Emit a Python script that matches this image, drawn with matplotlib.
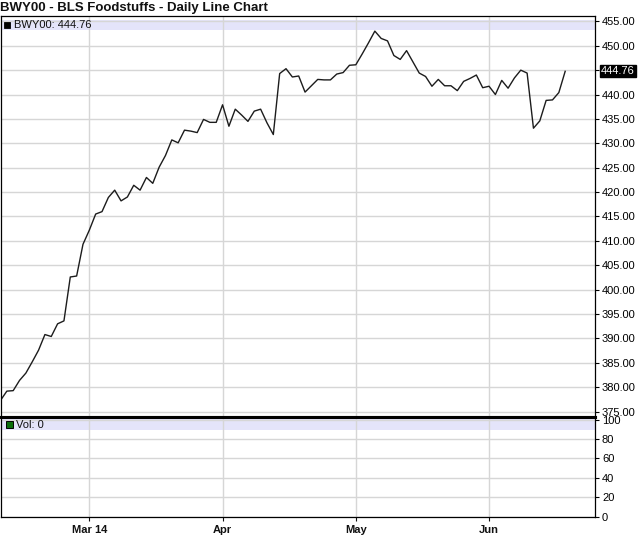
import matplotlib.pyplot as plt
import matplotlib.transforms as mtransforms
import numpy as np
from matplotlib.patches import Rectangle

plt.rcParams["font.family"] = ["Liberation Sans", "DejaVu Sans"]

# daily closes, BWY00 (one value per trading day)
price = [377.3, 379.2, 379.3, 381.4, 382.9, 385.2, 387.6, 390.8, 390.4, 393.0,
         393.6, 402.6, 402.8, 409.3, 412.2, 415.5, 416.0, 418.9, 420.4, 418.2,
         419.0, 421.4, 420.4, 423.0, 421.8, 425.1, 427.5, 430.7, 430.1, 432.7,
         432.5, 432.2, 434.9, 434.3, 434.3, 437.9, 433.5, 437.0, 435.8, 434.5,
         436.6, 437.0, 434.2, 431.8, 444.3, 445.3, 443.6, 443.8, 440.5, 441.8,
         443.1, 443.0, 443.0, 444.2, 444.5, 446.0, 446.1, 448.3, 450.6, 453.0,
         451.5, 451.0, 448.0, 447.2, 449.0, 446.7, 444.4, 443.7, 441.7, 443.1,
         441.8, 441.8, 440.8, 442.7, 443.3, 444.0, 441.4, 441.7, 440.0, 442.9,
         441.3, 443.4, 445.0, 444.4, 433.1, 434.6, 438.8, 438.9, 440.4, 444.76]
volume_last = 0
tick_idx = [14, 35, 56, 77]
tick_labels = ["Mar 14", "Apr", "May", "Jun"]
price_ticks = np.arange(375, 456, 5)
vol_ticks = [0, 20, 40, 60, 80, 100]

W, H = 640, 536
GRID = "#d6d6d6"
BAND = "#e4e4fa"


def frame(top, bottom, left=0.5, right=595.0):
    return [left / W, 1 - bottom / H, (right - left) / W, (bottom - top) / H]


fig = plt.figure(figsize=(W / 100, H / 100), dpi=100)
ax = fig.add_axes(frame(16, 416.5))
axv = fig.add_axes(frame(416.5, 516.7))

x = np.arange(len(price))
ax.plot(x, price, color="#1c1c1c", lw=1.0, zorder=2)

for a in (ax, axv):
    a.set_xlim(0, 93.7)
    a.set_xticks(tick_idx)
    a.set_axisbelow(True)
    a.grid(True, color=GRID, lw=1.0)
    a.yaxis.tick_right()
    a.tick_params(axis="y", direction="out", length=3, width=0.8, pad=2,
                  labelsize=8, colors="black")
    for s in a.spines.values():
        s.set_color("black")
        s.set_linewidth(0.9)

ax.set_ylim(374.0, 456.1)
ax.set_yticks(price_ticks)
ax.set_yticklabels(["" if v == 445 else f"{v:.2f}" for v in price_ticks])
ax.tick_params(axis="x", length=0, labelbottom=False)
ax.spines["bottom"].set_linewidth(2.2)

axv.set_ylim(0, 103.2)
axv.set_yticks(vol_ticks)
axv.set_yticklabels([str(v) for v in vol_ticks])
axv.spines["top"].set_linewidth(2.2)
axv.set_xticklabels(tick_labels, fontweight="bold", fontsize=8)
axv.tick_params(axis="x", direction="out", length=3, width=0.8, pad=3,
                colors="#111111")


def add_band(a, top_px, bottom_px, panel_top, panel_bottom):
    h = panel_bottom - panel_top
    y0 = (panel_bottom - bottom_px) / h
    a.add_patch(Rectangle((0, y0), 1, (bottom_px - top_px) / h,
                          transform=a.transAxes, facecolor=BAND,
                          edgecolor="none", zorder=0.3))
    return (panel_bottom - (top_px + bottom_px) / 2) / h


yb = add_band(ax, 20, 29.5, 16, 416.5)
ax.add_patch(Rectangle((3.5 / 594.5, yb - 3 / 400.5), 6 / 594.5, 6 / 400.5,
                       transform=ax.transAxes, facecolor="black",
                       edgecolor="black", lw=0.6, zorder=3))
ax.text(13 / 594.5, yb, f"BWY00: {price[-1]:.2f}", transform=ax.transAxes,
        fontsize=8, va="center", ha="left", color="#111111", zorder=3)

yv = add_band(axv, 419, 430, 416.5, 516.7)
axv.add_patch(Rectangle((5.5 / 594.5, yv - 3.3 / 100.2), 6.5 / 594.5, 6.6 / 100.2,
                        transform=axv.transAxes, facecolor="#0a6e0a",
                        edgecolor="black", lw=0.7, zorder=3))
axv.text(16 / 594.5, yv, f"Vol: {volume_last}", transform=axv.transAxes,
         fontsize=8, va="center", ha="left", color="#111111", zorder=3)

# last price marker on the right axis
trans = mtransforms.blended_transform_factory(ax.transAxes, ax.transData)
ax.text(1.0 + 6 / 594.5, price[-1], f"{price[-1]:.2f}", transform=trans,
        fontsize=8, va="center", ha="left", color="white", clip_on=False,
        bbox=dict(facecolor="black", edgecolor="black", pad=0.8))

fig.text(0.5 / W, 1 - 8.5 / H, "BWY00 - BLS Foodstuffs - Daily Line Chart",
         fontsize=9.5, fontweight="bold", ha="left", va="center", color="#111111")

fig.savefig("out.png", dpi=100)
